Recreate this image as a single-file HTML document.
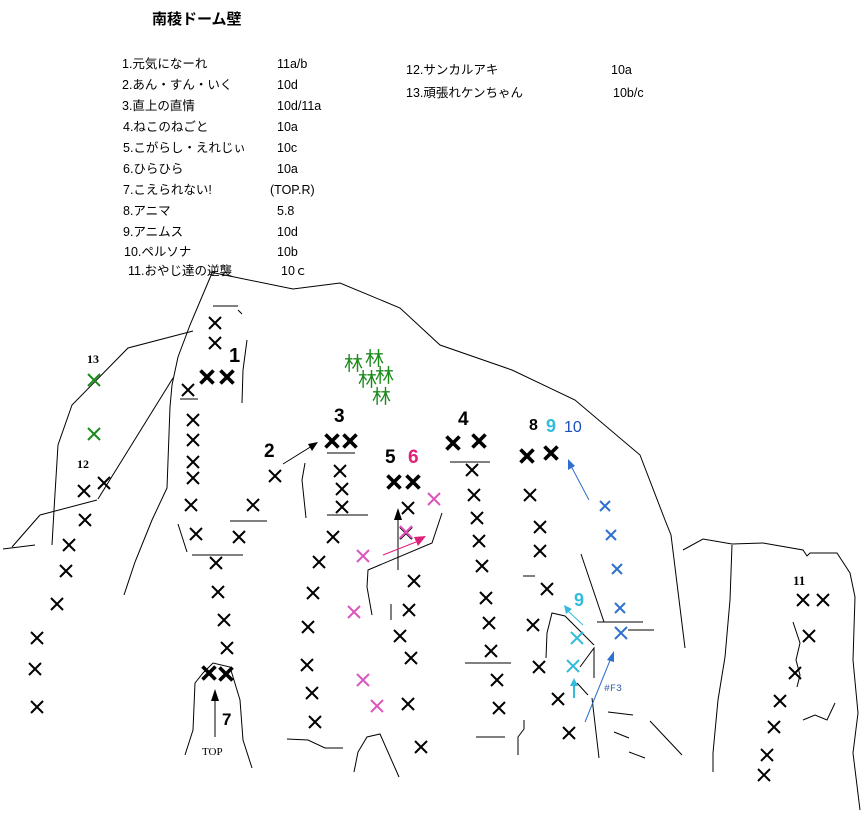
<!DOCTYPE html>
<html><head><meta charset="utf-8"><style>
html,body{margin:0;padding:0;background:#fff;}
svg{display:block;}
.t{font-family:"Liberation Sans","Noto Sans CJK JP",sans-serif;font-size:12.5px;fill:#000;}
.lb{font-family:"Liberation Sans","Noto Sans CJK JP",sans-serif;font-weight:bold;}
</style></head><body>
<svg width="868" height="817" viewBox="0 0 868 817" xmlns="http://www.w3.org/2000/svg">
<defs>
<path id="x" d="M-6,-6L6,6M6,-6L-6,6" stroke-width="2"/>
<path id="xb" d="M-6.5,-6.5L6.5,6.5M6.5,-6.5L-6.5,6.5" stroke-width="3.6"/>
<path id="xs" d="M-5,-5L5,5M5,-5L-5,5" stroke-width="2"/>
</defs>
<text x="152" y="24" class="lb" font-size="15">南稜ドーム壁</text>
<g class="t">
<text x="122" y="68">1.元気になーれ</text><text x="277" y="68">11a/b</text>
<text x="122" y="89">2.あん・すん・いく</text><text x="277" y="89">10d</text>
<text x="122" y="110">3.直上の直情</text><text x="277" y="110">10d/11a</text>
<text x="123" y="131">4.ねこのねごと</text><text x="277" y="131">10a</text>
<text x="123" y="152">5.こがらし・えれじぃ</text><text x="277" y="152">10c</text>
<text x="123" y="173">6.ひらひら</text><text x="277" y="173">10a</text>
<text x="123" y="194">7.こえられない!</text><text x="270" y="194">(TOP.R)</text>
<text x="123" y="215">8.アニマ</text><text x="277" y="215">5.8</text>
<text x="123" y="236">9.アニムス</text><text x="277" y="236">10d</text>
<text x="124" y="256">10.ペルソナ</text><text x="277" y="256">10b</text>
<text x="128" y="275">11.おやじ達の逆襲</text><text x="281" y="275">10ｃ</text>
<text x="406" y="74">12.サンカルアキ</text><text x="611" y="74">10a</text>
<text x="406" y="97">13.頑張れケンちゃん</text><text x="613" y="97">10b/c</text>
</g>
<g fill="none" stroke="#000" stroke-width="1">
<polyline points="210,272 293,289 340,283 400,308 440,345 512,370 575,400 640,455 665,520 671,535 685,648"/>
<polyline points="212,273 190,325 178,357 172,385 170,407 167,488 152,520 135,562 124,595"/>
<polyline points="193,331 128,348 72,405 58,445 54,510 52,545"/>
<polyline points="40,515 97,500"/>
<polyline points="40,515 12,547"/><polyline points="3,549 35,545"/>
<polyline points="173,378 98,499"/>
<polyline points="247,340 243,370 242,403"/>
<polyline points="213,306 238,306"/><polyline points="238,310 242,314"/>
<polyline points="180,399 198,399"/>
<polyline points="305,463 302,480 306,518"/>
<polyline points="178,524 187,552"/>
<polyline points="230,521 267,521"/>
<polyline points="192,555 243,555"/>
<polyline points="185,755 193,730 195,683 203,673 213,663 230,667 240,700 243,740 252,768"/>
<polyline points="327,453 355,453"/><polyline points="327,515 368,515"/>
<polyline points="287,739 308,740 325,748 343,748"/>
<polyline points="354,772 358,752 367,737 380,734 399,777"/>
<polyline points="372,615 367,587 368,570 432,543 442,513"/>
<polyline points="391,604 391,620"/>
<polyline points="450,462 490,462"/>
<polyline points="465,663 511,663"/><polyline points="476,737 505,737"/>
<polyline points="523,576 535,576"/>
<polyline points="581,554 604,622"/>
<polyline points="597,622 643,622"/><polyline points="628,630 654,630"/>
<polyline points="546,658 547,633 552,613 565,616 594,645"/>
<polyline points="580,667 594,648 594,678"/>
<polyline points="577,683 588,695"/>
<polyline points="592,698 599,758"/>
<polyline points="608,712 633,715"/><polyline points="614,732 629,738"/><polyline points="629,752 645,758"/>
<polyline points="650,721 682,755"/>
<polyline points="518,755 518,737 524,729 524,720"/>
<polyline points="683,550 703,539 732,544 763,543 803,550 807,556 810,553 837,553 850,573 855,597 853,660 858,713 853,753 860,810"/>
<polyline points="732,545 730,600 725,657 718,700 713,753 713,772"/>
<polyline points="793,622 800,643 796,660 800,675 797,687"/>
<polyline points="803,720 815,715 827,720 835,703"/>
</g>
<!-- trees -->
<g fill="#1a8a1a" font-family="'Liberation Sans','Noto Sans CJK JP',sans-serif" font-size="19">
<text x="344" y="370">林</text><text x="365" y="365">林</text>
<text x="358" y="386">林</text><text x="375" y="382">林</text>
<text x="372" y="403">林</text>
</g>
<!-- normal black X -->
<g stroke="#000" fill="none">
<use href="#x" x="215" y="323"/><use href="#x" x="215" y="343"/>
<use href="#x" x="188" y="390"/><use href="#x" x="193" y="420"/><use href="#x" x="193" y="440"/>
<use href="#x" x="193" y="462"/><use href="#x" x="193" y="478"/><use href="#x" x="191" y="505"/><use href="#x" x="196" y="534"/>
<use href="#x" x="253" y="505"/><use href="#x" x="239" y="537"/><use href="#x" x="275" y="476"/>
<use href="#x" x="216" y="563"/><use href="#x" x="218" y="592"/><use href="#x" x="224" y="620"/><use href="#x" x="227" y="648"/>
<use href="#x" x="84" y="491"/><use href="#x" x="104" y="483"/><use href="#x" x="85" y="520"/><use href="#x" x="69" y="545"/>
<use href="#x" x="66" y="571"/><use href="#x" x="57" y="604"/><use href="#x" x="37" y="638"/><use href="#x" x="35" y="669"/><use href="#x" x="37" y="707"/>
<use href="#x" x="340" y="471"/><use href="#x" x="342" y="489"/><use href="#x" x="342" y="507"/>
<use href="#x" x="333" y="537"/><use href="#x" x="319" y="562"/><use href="#x" x="313" y="593"/><use href="#x" x="308" y="627"/>
<use href="#x" x="307" y="665"/><use href="#x" x="312" y="693"/><use href="#x" x="315" y="722"/>
<use href="#x" x="408" y="508"/><use href="#x" x="406" y="533"/><use href="#x" x="414" y="581"/><use href="#x" x="409" y="610"/>
<use href="#x" x="400" y="636"/><use href="#x" x="411" y="658"/><use href="#x" x="408" y="704"/><use href="#x" x="421" y="747"/>
<use href="#x" x="472" y="470"/><use href="#x" x="474" y="495"/><use href="#x" x="477" y="518"/><use href="#x" x="479" y="541"/>
<use href="#x" x="482" y="566"/><use href="#x" x="486" y="598"/><use href="#x" x="489" y="623"/><use href="#x" x="491" y="651"/>
<use href="#x" x="497" y="680"/><use href="#x" x="499" y="708"/>
<use href="#x" x="530" y="495"/><use href="#x" x="540" y="527"/><use href="#x" x="540" y="551"/><use href="#x" x="547" y="589"/>
<use href="#x" x="533" y="625"/><use href="#x" x="539" y="667"/><use href="#x" x="558" y="699"/><use href="#x" x="569" y="733"/>
<use href="#x" x="803" y="600"/><use href="#x" x="823" y="600"/><use href="#x" x="809" y="636"/><use href="#x" x="795" y="673"/>
<use href="#x" x="780" y="701"/><use href="#x" x="774" y="727"/><use href="#x" x="767" y="755"/><use href="#x" x="764" y="775"/>
</g>
<g stroke="#000" fill="none">
<use href="#xb" x="207" y="377"/><use href="#xb" x="227" y="377"/>
<use href="#xb" x="209" y="673"/><use href="#xb" x="226" y="674"/>
<use href="#xb" x="332" y="441"/><use href="#xb" x="350" y="441"/>
<use href="#xb" x="394" y="482"/><use href="#xb" x="413" y="482"/>
<use href="#xb" x="453" y="443"/><use href="#xb" x="479" y="441"/>
<use href="#xb" x="527" y="456"/><use href="#xb" x="551" y="453"/>
</g>
<g stroke="#1a8a1a" fill="none"><use href="#x" x="94" y="380"/><use href="#x" x="94" y="434"/></g>
<g stroke="#dd55bb" fill="none">
<use href="#x" x="434" y="499"/><use href="#x" x="406" y="532"/><use href="#x" x="363" y="556"/>
<use href="#x" x="354" y="612"/><use href="#x" x="363" y="680"/><use href="#x" x="377" y="706"/>
</g>
<g stroke="#2f6fd0" fill="none">
<use href="#xs" x="605" y="506"/><use href="#xs" x="611" y="535"/><use href="#xs" x="617" y="569"/>
<use href="#xs" x="620" y="608"/><use href="#x" x="621" y="633"/>
</g>
<g stroke="#33bbdd" fill="none"><use href="#x" x="577" y="638"/><use href="#x" x="573" y="666"/></g>
<!-- arrows -->
<g stroke-width="1">
<line x1="283" y1="464" x2="312" y2="446" stroke="#000"/><polygon points="318,442 308,444 312,451" fill="#000"/>
<line x1="398" y1="570" x2="398" y2="518" stroke="#000"/><polygon points="398,508 394,520 402,520" fill="#000"/>
<line x1="383" y1="555" x2="416" y2="542" stroke="#e0207a"/><polygon points="426,536 414,537 418,546" fill="#e0207a"/>
<line x1="215" y1="737" x2="215" y2="700" stroke="#000"/><polygon points="215,689 211,701 219,701" fill="#000"/>
<line x1="589" y1="500" x2="571" y2="466" stroke="#2f6fd0"/><polygon points="568,459 568,470 575,466" fill="#2f6fd0"/>
<line x1="583" y1="625" x2="568" y2="611" stroke="#33bbdd"/><polygon points="564,605 566,614 572,609" fill="#33bbdd"/>
<line x1="574" y1="698" x2="574" y2="684" stroke="#33bbdd" stroke-width="2"/><polygon points="574,678 570,686 578,686" fill="#33bbdd"/>
<line x1="585" y1="722" x2="611" y2="658" stroke="#2f6fd0"/><polygon points="614,651 607,660 614,662" fill="#2f6fd0"/>
</g>
<!-- labels -->
<g class="lb">
<text x="229" y="362" font-size="20">1</text>
<text x="264" y="457" font-size="19">2</text>
<text x="334" y="422" font-size="19">3</text>
<text x="458" y="425" font-size="19">4</text>
<text x="385" y="463" font-size="19">5</text>
<text x="408" y="463" font-size="19" fill="#e0207a">6</text>
<text x="222" y="725" font-size="17">7</text>
<text x="529" y="430" font-size="16">8</text>
<text x="546" y="432" font-size="18" fill="#33bbdd">9</text>
<text x="564" y="432" font-size="16" fill="#1a4fc0" font-weight="normal">10</text>
<text x="574" y="606" font-size="18" fill="#33bbdd">9</text>
<text x="87" y="363" font-size="12" font-family="'Liberation Serif',serif">13</text>
<text x="77" y="468" font-size="12" font-family="'Liberation Serif',serif">12</text>
<text x="793" y="585" font-size="13" font-family="'Liberation Serif',serif">11</text>
</g>
<text x="202" y="755" font-family="'Liberation Serif',serif" font-size="11">TOP</text>
<text x="604" y="691" font-family="'Liberation Mono',monospace" font-size="10" fill="#3a5fb0">#F3</text>
</svg>
</body></html>
